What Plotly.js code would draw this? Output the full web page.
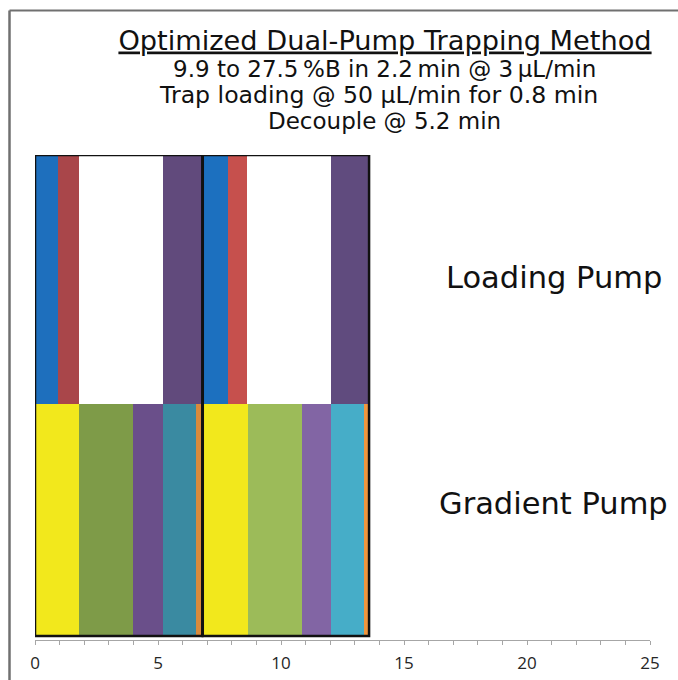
<!DOCTYPE html>
<html>
<head>
<meta charset="utf-8">
<script src="https://cdn.plot.ly/plotly-3.0.1.min.js"></script>
<style>html,body{margin:0;padding:0;background:#fff;}#chart{width:678px;height:680px;}</style>
</head>
<body>
<div id="chart"></div>
<script>
// ---- data (minutes) ----
const cycleStart = [0, 6.82];
const cycleEnd = [6.8, 13.58];
const loadingDur1 = [0.95, 0.84, 3.43, 1.53];
const loadingDur2 = [1.02, 0.79, 3.42, 1.47];
const gradientDur1 = [1.79, 2.19, 1.24, 1.33, 0.20];
const gradientDur2 = [1.83, 2.22, 1.17, 1.34, 0.17];
const loadingColors1 = ['#1e6fbd', '#a9464a', '#ffffff', '#614a7c'];
const loadingColors2 = ['#1c70bf', '#c6504d', '#ffffff', '#604b7e'];
const gradientColors1 = ['#f2e81c', '#7e9b48', '#6a4f8a', '#3a8aa1', '#d98a3c'];
const gradientColors2 = ['#f2e81c', '#9cbb59', '#8265a4', '#46adc8', '#f0963e'];
const rowLabels = ['Loading Pump', 'Gradient Pump'];
const titleText = 'Optimized Dual-Pump Trapping Method';
const subtitleLines = ['9.9 to 27.5\u2009%B in 2.2\u2009min @ 3\u2009µL/min',
                       'Trap loading @ 50 µL/min for 0.8 min',
                       'Decouple @ 5.2 min'];
const xTickVals = [0, 5, 10, 15, 20, 25];

// ---- layout geometry ----
const W = 678, H = 680;
const M = {l: 35, r: 28, t: 155, b: 40};
const PW = W - M.l - M.r, PH = H - M.t - M.b;
const px2x = p => (p - M.l) / PW;
const py2y = p => (H - M.b - p) / PH;
const yLow = -4 / 232, yTop = 1 + 249 / 232;

function segments(starts, durs, colors) {
  const base = [], len = [], col = [];
  let t = starts;
  durs.forEach((d, i) => { base.push(t); len.push(d); col.push(colors[i]); t += d; });
  return {base, len, col};
}
const L1 = segments(cycleStart[0], loadingDur1, loadingColors1);
const L2 = segments(cycleStart[1], loadingDur2, loadingColors2);
const G1 = segments(cycleStart[0], gradientDur1, gradientColors1);
const G2 = segments(cycleStart[1], gradientDur2, gradientColors2);

function barTrace(parts, yc, w, name) {
  const base = [].concat(...parts.map(p => p.base));
  const len = [].concat(...parts.map(p => p.len));
  const col = [].concat(...parts.map(p => p.col));
  return {
    type: 'bar', orientation: 'h', name: name,
    x: len, base: base, y: len.map(() => yc), width: w,
    marker: {color: col, line: {width: 0}},
    hoverinfo: 'skip', showlegend: false
  };
}
const traces = [
  barTrace([G1, G2], 0.5, 1, rowLabels[1]),
  barTrace([L1, L2], (1 + yTop) / 2, yTop - 1, rowLabels[0])
];

const shapes = cycleStart.map((s, i) => ({
  type: 'rect', xref: 'x', yref: 'y', x0: s, x1: cycleEnd[i], y0: 0, y1: yTop,
  line: {color: '#111111', width: 2.5}, fillcolor: 'rgba(0,0,0,0)', layer: 'above'
}));
// outer frame (top and left edges)
shapes.push({type: 'line', xref: 'paper', yref: 'paper', x0: px2x(9.5), x1: px2x(W + 5), y0: py2y(10.5), y1: py2y(10.5), line: {color: '#707070', width: 2}});
shapes.push({type: 'line', xref: 'paper', yref: 'paper', x0: px2x(9.5), x1: px2x(9.5), y0: py2y(10.5), y1: py2y(H + 5), line: {color: '#707070', width: 2.5}});

const subY = [69, 95, 121];
const subX = [384, 378, 384];
const subSize = [23, 23.6, 23];
const annotations = subtitleLines.map((t, i) => ({
  text: t, xref: 'paper', yref: 'paper', x: px2x(subX[i]), y: py2y(subY[i]),
  xanchor: 'center', yanchor: 'middle', showarrow: false,
  font: {family: 'DejaVu Sans', size: subSize[i], color: '#111'}
}));
annotations.push({text: rowLabels[0], xref: 'paper', yref: 'paper', x: px2x(554), y: py2y(277),
  xanchor: 'center', yanchor: 'middle', showarrow: false, font: {family: 'DejaVu Sans', size: 30.5, color: '#111'}});
annotations.push({text: rowLabels[1], xref: 'paper', yref: 'paper', x: px2x(553.5), y: py2y(503),
  xanchor: 'center', yanchor: 'middle', showarrow: false, font: {family: 'DejaVu Sans', size: 30.5, color: '#111'}});

const layout = {
  width: W, height: H, margin: M,
  paper_bgcolor: '#ffffff', plot_bgcolor: '#ffffff',
  barmode: 'overlay', bargap: 0,
  title: {text: '<u>' + titleText + '</u>', xref: 'container', yref: 'container',
          x: 385 / W, xanchor: 'center', y: 1 - 40 / H, yanchor: 'middle',
          font: {family: 'DejaVu Sans', size: 27.2, color: '#111'}},
  xaxis: {range: [0, 25], tickvals: xTickVals, ticktext: xTickVals.map(String),
          showgrid: false, zeroline: false, showline: true, linecolor: '#a6a6a6', linewidth: 1,
          ticks: 'outside', ticklen: 4, tickcolor: '#a6a6a6', ticklabelstandoff: 4,
          minor: {dtick: 1, tick0: 0, ticks: 'outside', ticklen: 4, tickcolor: '#a6a6a6', showgrid: false},
          tickfont: {family: 'Open Sans', size: 17, color: '#262626'}, fixedrange: true},
  yaxis: {range: [yLow, yTop], visible: false, showgrid: false, zeroline: false, fixedrange: true},
  shapes: shapes, annotations: annotations, showlegend: false
};
Plotly.newPlot('chart', traces, layout, {staticPlot: true, displayModeBar: false});
</script>
</body>
</html>
